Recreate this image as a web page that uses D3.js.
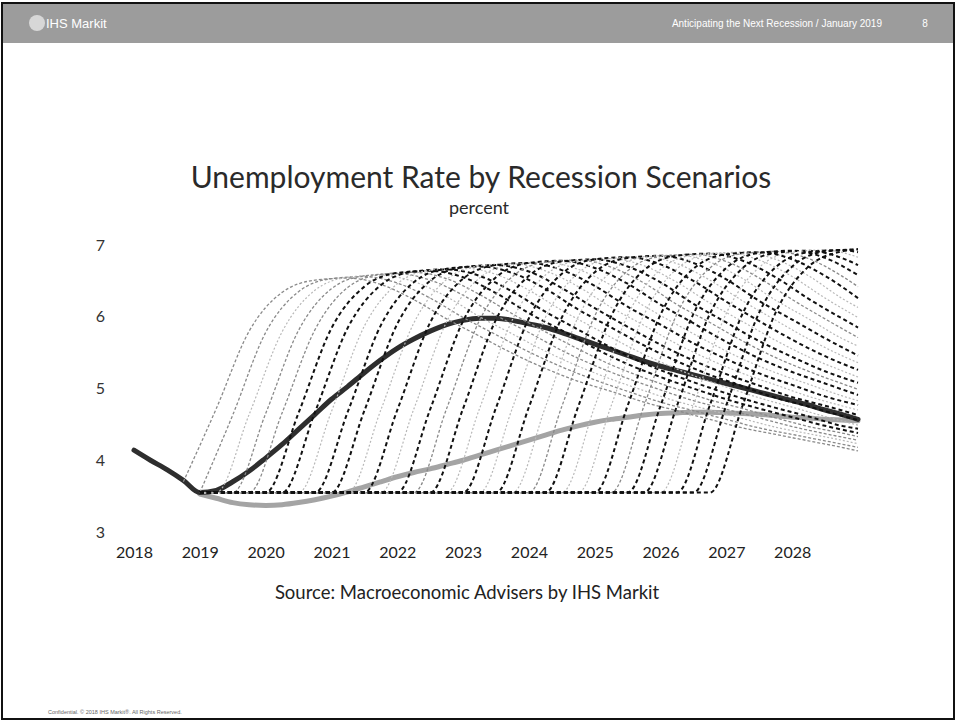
<!DOCTYPE html>
<html>
<head>
<meta charset="utf-8">
<script src="https://cdn.jsdelivr.net/npm/d3@7"></script>
<style>
  body { margin: 0; background: #fff; }
  svg { display: block; }
</style>
</head>
<body>
<script>
// ---- data (quarterly, index 0 = 2018Q1) ----
const yearLabels = [2018, 2019, 2020, 2021, 2022, 2023, 2024, 2025, 2026, 2027, 2028];
const rateTicks = [3, 4, 5, 6, 7];

// baseline forecast, 2018Q1 .. 2029Q1
const baseline = [4.14, 4.00, 3.87, 3.72, 3.55, 3.58, 3.70, 3.85, 4.03, 4.22,
  4.43, 4.64, 4.85, 5.03, 5.22, 5.40, 5.56, 5.69, 5.80, 5.89,
  5.95, 5.98, 5.98, 5.95, 5.90, 5.85, 5.78, 5.70, 5.62, 5.54,
  5.46, 5.38, 5.31, 5.25, 5.19, 5.13, 5.07, 5.01, 4.95, 4.89,
  4.83, 4.77, 4.70, 4.64, 4.57];

// lighter solid path, 2019Q1 .. 2029Q1
const lowPathStart = "2019Q1";
const lowPath = [3.53, 3.47, 3.41, 3.38, 3.37, 3.38, 3.41, 3.45, 3.50, 3.56,
  3.63, 3.70, 3.77, 3.83, 3.88, 3.94, 4.00, 4.07, 4.14, 4.21,
  4.28, 4.35, 4.42, 4.48, 4.53, 4.57, 4.60, 4.63, 4.65, 4.66,
  4.67, 4.67, 4.66, 4.65, 4.64, 4.62, 4.60, 4.59, 4.57, 4.56, 4.55];

// recession scenarios: start quarter, then values every 2 quarters (last one at 2029Q1)
const recessionStart = ["2018Q4", "2019Q1", "2019Q2", "2019Q3", "2019Q4", "2020Q1", "2020Q2",
  "2020Q3", "2020Q4", "2021Q1", "2021Q2", "2021Q3", "2021Q4", "2022Q1", "2022Q2", "2022Q3",
  "2022Q4", "2023Q1", "2023Q2", "2023Q3", "2023Q4", "2024Q1", "2024Q2", "2024Q3", "2024Q4",
  "2025Q1", "2025Q2", "2025Q3", "2025Q4", "2026Q1", "2026Q2", "2026Q3", "2026Q4"];
const recessionPaths = [
  [3.70, 4.72, 5.80, 6.34, 6.51, 6.54, 6.45, 6.24, 5.97, 5.73, 5.49, 5.28, 5.10, 4.96, 4.81, 4.69, 4.57, 4.45, 4.36, 4.27, 4.18, 4.13],
  [3.55, 4.63, 5.78, 6.35, 6.53, 6.56, 6.47, 6.26, 5.99, 5.75, 5.51, 5.30, 5.12, 4.96, 4.81, 4.69, 4.57, 4.45, 4.36, 4.27, 4.18],
  [3.55, 4.64, 5.79, 6.37, 6.55, 6.58, 6.49, 6.28, 6.00, 5.76, 5.52, 5.31, 5.13, 4.97, 4.82, 4.70, 4.58, 4.46, 4.37, 4.28, 4.23],
  [3.55, 4.65, 5.81, 6.39, 6.57, 6.60, 6.51, 6.30, 6.02, 5.78, 5.53, 5.32, 5.14, 4.98, 4.83, 4.71, 4.59, 4.47, 4.37, 4.28],
  [3.55, 4.66, 5.82, 6.41, 6.59, 6.62, 6.53, 6.31, 6.04, 5.79, 5.55, 5.33, 5.15, 4.99, 4.84, 4.72, 4.59, 4.47, 4.38, 4.33],
  [3.55, 4.66, 5.84, 6.42, 6.61, 6.64, 6.55, 6.33, 6.05, 5.81, 5.56, 5.34, 5.16, 5.00, 4.85, 4.72, 4.60, 4.48, 4.38],
  [3.55, 4.67, 5.85, 6.44, 6.63, 6.66, 6.57, 6.35, 6.07, 5.82, 5.57, 5.35, 5.17, 5.01, 4.86, 4.73, 4.61, 4.48, 4.44],
  [3.55, 4.68, 5.87, 6.46, 6.65, 6.68, 6.59, 6.37, 6.09, 5.84, 5.59, 5.37, 5.18, 5.02, 4.87, 4.74, 4.61, 4.49],
  [3.55, 4.68, 5.88, 6.48, 6.67, 6.70, 6.61, 6.39, 6.10, 5.85, 5.60, 5.38, 5.19, 5.03, 4.87, 4.75, 4.62, 4.56],
  [3.55, 4.69, 5.90, 6.50, 6.69, 6.72, 6.63, 6.40, 6.12, 5.86, 5.61, 5.39, 5.20, 5.04, 4.88, 4.76, 4.63],
  [3.55, 4.70, 5.91, 6.52, 6.71, 6.74, 6.64, 6.42, 6.13, 5.88, 5.62, 5.40, 5.21, 5.05, 4.89, 4.76, 4.70],
  [3.55, 4.70, 5.92, 6.53, 6.72, 6.75, 6.65, 6.43, 6.14, 5.89, 5.63, 5.41, 5.21, 5.05, 4.89, 4.77],
  [3.55, 4.71, 5.93, 6.54, 6.73, 6.76, 6.66, 6.44, 6.15, 5.89, 5.64, 5.41, 5.22, 5.06, 4.90, 4.83],
  [3.55, 4.71, 5.94, 6.55, 6.75, 6.78, 6.68, 6.46, 6.17, 5.91, 5.65, 5.42, 5.23, 5.07, 4.91],
  [3.55, 4.72, 5.95, 6.56, 6.76, 6.79, 6.69, 6.47, 6.17, 5.92, 5.66, 5.43, 5.24, 5.07, 4.99],
  [3.55, 4.72, 5.96, 6.57, 6.77, 6.80, 6.70, 6.48, 6.18, 5.92, 5.66, 5.44, 5.24, 5.08],
  [3.55, 4.72, 5.96, 6.58, 6.78, 6.81, 6.71, 6.48, 6.19, 5.93, 5.67, 5.44, 5.25, 5.16],
  [3.55, 4.73, 5.98, 6.60, 6.80, 6.83, 6.73, 6.50, 6.21, 5.94, 5.68, 5.45, 5.26],
  [3.55, 4.73, 5.99, 6.61, 6.81, 6.84, 6.74, 6.51, 6.22, 5.95, 5.69, 5.46, 5.36],
  [3.55, 4.74, 5.99, 6.62, 6.82, 6.85, 6.75, 6.52, 6.22, 5.96, 5.70, 5.46],
  [3.55, 4.74, 6.00, 6.63, 6.83, 6.86, 6.76, 6.53, 6.23, 5.97, 5.70, 5.59],
  [3.55, 4.75, 6.01, 6.64, 6.84, 6.87, 6.77, 6.54, 6.24, 5.97, 5.71],
  [3.55, 4.75, 6.01, 6.65, 6.85, 6.88, 6.78, 6.55, 6.25, 5.98, 5.85],
  [3.55, 4.75, 6.02, 6.66, 6.86, 6.89, 6.79, 6.56, 6.26, 5.99],
  [3.55, 4.76, 6.03, 6.67, 6.87, 6.90, 6.80, 6.57, 6.26, 6.13],
  [3.55, 4.76, 6.03, 6.67, 6.87, 6.90, 6.80, 6.57, 6.26],
  [3.55, 4.76, 6.04, 6.68, 6.88, 6.91, 6.81, 6.57, 6.42],
  [3.55, 4.76, 6.04, 6.68, 6.89, 6.92, 6.82, 6.58],
  [3.55, 4.76, 6.04, 6.68, 6.89, 6.92, 6.82, 6.72],
  [3.55, 4.77, 6.05, 6.69, 6.90, 6.93, 6.83],
  [3.55, 4.77, 6.05, 6.69, 6.90, 6.93, 6.90],
  [3.55, 4.77, 6.06, 6.70, 6.91, 6.94],
  [3.55, 4.77, 6.06, 6.70, 6.91, 6.94]
];

// ---- styling ----
// scan tones of the scenario lines (k = black dash, g = grey, l = light grey)
const scenarioInk = ["g", "g", "l", "g", "g", "k", "k", "l", "k", "k", "l", "k", "l", "k", "g", "k",
  "l", "k", "l", "k", "l", "g", "k", "l", "l", "k", "g", "k", "k", "l", "k", "k", "k"];
const inkStyle = {
  k: { color: "#111", width: 2, dash: "4,3" },
  g: { color: "#8a8a8a", width: 1.3, dash: "3,2" },
  l: { color: "#b8b8b8", width: 1.2, dash: "2,2" }
};

const width = 957, height = 723;
const font = "Lato, 'Open Sans', sans-serif";
const lastQ = 44;

const qIndex = (s) => (+s.slice(0, 4) - 2018) * 4 + (+s.slice(5) - 1);

const x = d3.scaleLinear([0, lastQ], [134, 858]);
const y = d3.scaleLinear([3, 7], [532, 245]);

const line = d3.line()
  .x((d) => x(d.q))
  .y((d) => y(d.v))
  .curve(d3.curveMonotoneX);

const svg = d3.select("body").append("svg")
  .attr("width", width)
  .attr("height", height)
  .attr("viewBox", [0, 0, width, height]);

// page frame + header band
svg.append("rect")
  .attr("x", 2).attr("y", 3)
  .attr("width", 952).attr("height", 716)
  .attr("fill", "#fff")
  .attr("stroke", "#111")
  .attr("stroke-width", 2);

svg.append("rect")
  .attr("x", 3).attr("y", 4)
  .attr("width", 950).attr("height", 39)
  .attr("fill", "#9c9c9c");

svg.append("circle")
  .attr("cx", 37).attr("cy", 23).attr("r", 8)
  .attr("fill", "#e6e6e6")
  .attr("opacity", 0.8);

svg.append("text")
  .attr("x", 46).attr("y", 28)
  .attr("font-family", "'Liberation Sans', Arial, sans-serif")
  .attr("font-size", 13)
  .attr("fill", "#fff")
  .text("IHS Markit");

svg.append("text")
  .attr("x", 882).attr("y", 27)
  .attr("text-anchor", "end")
  .attr("font-family", "'Liberation Sans', Arial, sans-serif")
  .attr("font-size", 10)
  .attr("fill", "#fff")
  .text("Anticipating the Next Recession / January 2019");

svg.append("text")
  .attr("x", 925).attr("y", 27)
  .attr("text-anchor", "middle")
  .attr("font-family", "'Liberation Sans', Arial, sans-serif")
  .attr("font-size", 10)
  .attr("fill", "#fff")
  .text("8");

// titles
svg.append("text")
  .attr("x", 481).attr("y", 188)
  .attr("text-anchor", "middle")
  .attr("font-family", font)
  .attr("font-size", 30)
  .attr("fill", "#2a2a2a")
  .text("Unemployment Rate by Recession Scenarios");

svg.append("text")
  .attr("x", 479).attr("y", 214)
  .attr("text-anchor", "middle")
  .attr("font-family", font)
  .attr("font-size", 18)
  .attr("fill", "#2a2a2a")
  .text("percent");

// axes
svg.append("g")
  .attr("transform", "translate(110,0)")
  .call(d3.axisLeft(y).tickValues(rateTicks).tickFormat(d3.format("d")).tickSize(0).tickPadding(5))
  .call((g) => g.select(".domain").remove())
  .call((g) => g.selectAll(".tick text")
    .attr("font-family", font)
    .attr("font-size", 16)
    .attr("fill", "#333"));

svg.append("g")
  .attr("transform", "translate(0,544)")
  .call(d3.axisBottom(x)
    .tickValues(yearLabels.map((yr) => (yr - 2018) * 4))
    .tickFormat((q) => yearLabels[q / 4])
    .tickSize(0)
    .tickPadding(3))
  .call((g) => g.select(".domain").remove())
  .call((g) => g.selectAll(".tick text")
    .attr("font-family", font)
    .attr("font-size", 16)
    .attr("fill", "#222"));

// solid paths
const baseData = baseline.map((v, q) => ({ q, v }));
const lowData = lowPath.map((v, i) => ({ q: qIndex(lowPathStart) + i, v }));

svg.append("path")
  .datum(lowData)
  .attr("fill", "none")
  .attr("stroke", "#a4a4a4")
  .attr("stroke-width", 5)
  .attr("stroke-linecap", "round")
  .attr("d", line);

svg.append("path")
  .datum(baseData)
  .attr("fill", "none")
  .attr("stroke", "#2e2e2e")
  .attr("stroke-width", 5)
  .attr("stroke-linecap", "round")
  .attr("d", line);

// recession scenarios
const floorQ = qIndex("2019Q1");
const scenarios = recessionPaths.map((vals, i) => {
  const q0 = qIndex(recessionStart[i]);
  const pts = vals.map((v, j) => ({ q: Math.min(q0 + 2 * j, lastQ), v }));
  if (q0 > floorQ) pts.unshift({ q: floorQ, v: vals[0] });
  return { pts, ink: inkStyle[scenarioInk[i]] };
});

svg.append("g")
  .selectAll("path")
  .data(scenarios)
  .join("path")
  .attr("fill", "none")
  .attr("stroke", (d) => d.ink.color)
  .attr("stroke-width", (d) => d.ink.width)
  .attr("stroke-dasharray", (d) => d.ink.dash)
  .attr("d", (d) => line(d.pts));

// source + footer
svg.append("text")
  .attr("x", 467).attr("y", 599)
  .attr("text-anchor", "middle")
  .attr("font-family", font)
  .attr("font-size", 18.5)
  .attr("fill", "#222")
  .text("Source: Macroeconomic Advisers by IHS Markit");

svg.append("text")
  .attr("x", 48).attr("y", 714)
  .attr("font-family", "'Liberation Sans', Arial, sans-serif")
  .attr("font-size", 5.5)
  .attr("fill", "#666")
  .text("Confidential. © 2018 IHS Markit®. All Rights Reserved.");
</script>
</body>
</html>
